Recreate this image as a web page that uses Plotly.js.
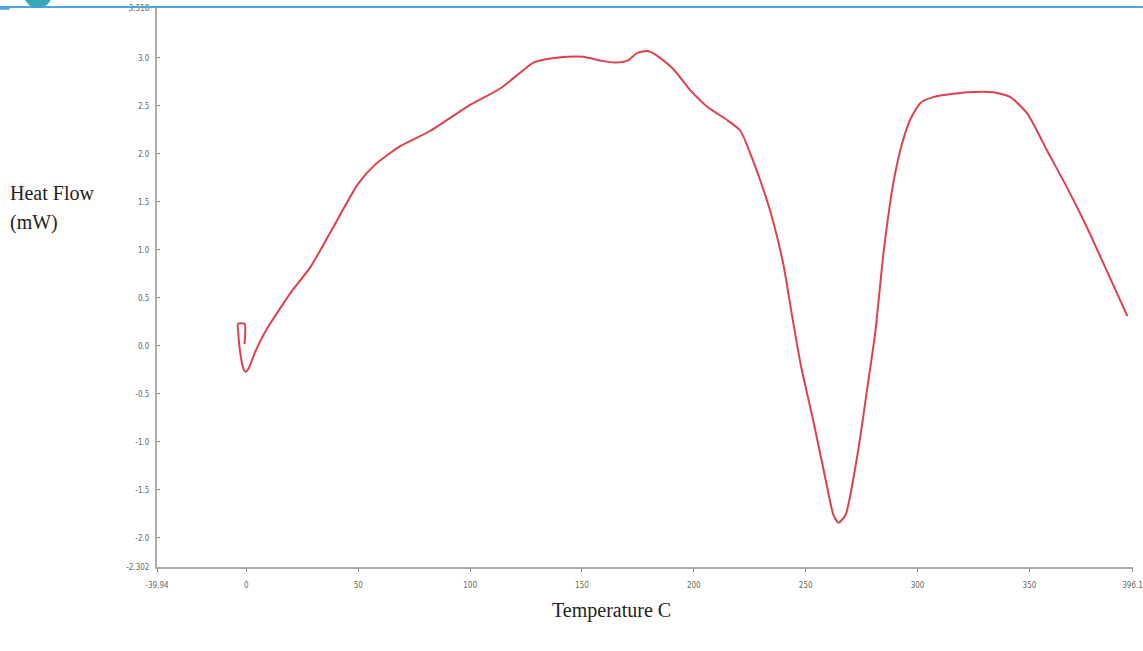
<!DOCTYPE html>
<html>
<head>
<meta charset="utf-8">
<script src="https://cdn.plot.ly/plotly-3.0.1.min.js"></script>
<style>
  html, body { margin: 0; padding: 0; background: #ffffff; }
  #chart { width: 1143px; height: 651px; }
</style>
</head>
<body>
<div id="chart"></div>
<script>
// Temperature (°C)
const tempC = [-0.8, -0.8, -3.7, -3.6, -2.7, -1.3, -0.4, 0.9, 4.0, 8.5, 16.5, 19.7, 28.6, 37.5, 50, 57.7, 68.8, 82.3, 100, 113.5, 128.3, 132.8, 143.5, 150.6, 158.2, 165, 170.3, 174.8, 179.3, 183.7, 190.9, 198.5, 206, 215, 220.8, 226.6, 234.2, 240, 244, 248, 253.5, 258.8, 262.4, 264.6, 267.8, 273.1, 277.6, 281.2, 284.8, 289.2, 293, 296.8, 301.3, 307, 322.3, 334, 341.5, 349, 358, 367, 376, 385, 393.8];
// Heat flow (mW)
const heatFlow = [0.02, 0.23, 0.23, 0.13, -0.08, -0.24, -0.27, -0.24, -0.06, 0.15, 0.44, 0.55, 0.82, 1.18, 1.69, 1.89, 2.08, 2.24, 2.51, 2.68, 2.95, 2.98, 3.01, 3.01, 2.97, 2.95, 2.97, 3.05, 3.07, 3.02, 2.88, 2.66, 2.49, 2.35, 2.24, 1.92, 1.40, 0.85, 0.30, -0.22, -0.79, -1.38, -1.76, -1.84, -1.76, -1.14, -0.43, 0.16, 0.97, 1.70, 2.10, 2.36, 2.53, 2.59, 2.64, 2.64, 2.59, 2.42, 2.03, 1.64, 1.22, 0.76, 0.31];

const xTickVals = [-39.94, 0, 50, 100, 150, 200, 250, 300, 350, 396.1];
const xTickText = ['-39.94', '0', '50', '100', '150', '200', '250', '300', '350', '396.1'];
const yTickVals = [-2.302, -2.0, -1.5, -1.0, -0.5, 0.0, 0.5, 1.0, 1.5, 2.0, 2.5, 3.0, 3.518];
const yTickText = ['-2.302', '-2.0', '-1.5', '-1.0', '-0.5', '0.0', '0.5', '1.0', '1.5', '2.0', '2.5', '3.0', '3.518'];

const tickFont = { family: 'Liberation Sans Narrow, DejaVu Sans Condensed, Liberation Sans, sans-serif', size: 8, color: '#666666' };
const titleFont = { family: 'Liberation Serif, DejaVu Serif, serif', size: 20, color: '#222222' };

const trace = {
  x: tempC,
  y: heatFlow,
  type: 'scatter',
  mode: 'lines',
  line: { color: '#e0404c', width: 2, shape: 'spline', smoothing: 0.6 },
  hoverinfo: 'x+y',
  showlegend: false
};

const layout = {
  width: 1143,
  height: 651,
  paper_bgcolor: '#ffffff',
  plot_bgcolor: '#ffffff',
  margin: { l: 157, r: 10, t: 8, b: 84 },
  showlegend: false,
  xaxis: {
    range: [-39.94, 396.3],
    tickvals: xTickVals,
    ticktext: xTickText,
    tickfont: tickFont,
    showgrid: false,
    zeroline: false,
    showline: true,
    linecolor: '#aaaaaa',
    linewidth: 2,
    ticks: 'outside',
    ticklen: 3,
    tickcolor: '#888888',
    ticklabelstandoff: 6
  },
  yaxis: {
    range: [-2.302, 3.518],
    tickvals: yTickVals,
    ticktext: yTickText,
    tickfont: tickFont,
    showgrid: false,
    zeroline: false,
    showline: true,
    linecolor: '#aaaaaa',
    linewidth: 2,
    ticks: 'inside',
    ticklen: 3,
    tickcolor: '#888888',
    ticklabelstandoff: 4
  },
  annotations: [
    { text: 'Heat Flow', xref: 'paper', yref: 'paper', x: -0.153, y: 0.669,
      xanchor: 'left', yanchor: 'middle', align: 'left', showarrow: false, font: titleFont },
    { text: '(mW)', xref: 'paper', yref: 'paper', x: -0.153, y: 0.617,
      xanchor: 'left', yanchor: 'middle', align: 'left', showarrow: false, font: titleFont },
    { text: 'Temperature C', xref: 'paper', yref: 'paper', x: 0.466, y: -0.077,
      xanchor: 'center', yanchor: 'middle', showarrow: false, font: titleFont }
  ],
  shapes: [
    { type: 'line', xref: 'paper', yref: 'paper', x0: -0.161, x1: 1.0102, y0: 1.0018, y1: 1.0018,
      line: { color: '#4ba7de', width: 2 } },
    { type: 'line', xref: 'paper', yref: 'paper', x0: -0.161, x1: -0.151, y0: 0.9995, y1: 0.9995,
      line: { color: '#4ba7de', width: 3 } },
    { type: 'circle', xref: 'paper', yref: 'paper', x0: -0.1363, x1: -0.1076, y0: 1.0, y1: 1.05,
      fillcolor: '#38a9b6', line: { color: '#38a9b6', width: 0 } }
  ]
};

Plotly.newPlot('chart', [trace], layout, { displayModeBar: false, staticPlot: true });
</script>
</body>
</html>
